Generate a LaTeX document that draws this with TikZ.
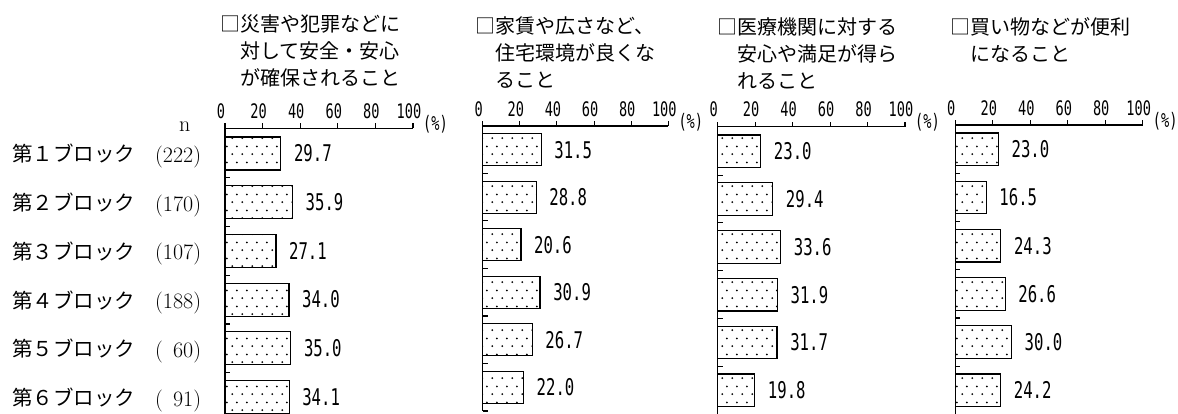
\documentclass[tikz,border=0pt]{standalone}
\usepackage{fontspec}
\usetikzlibrary{patterns}
\newfontfamily\jp{Noto Sans CJK JP}
\newfontfamily\numf[FakeStretch=0.68]{DejaVu Sans Mono}
\pgfdeclarepatternformonly{bardots}{\pgfpointorigin}{\pgfqpoint{10pt}{16pt}}{\pgfqpoint{10pt}{16pt}}{%
  \pgfpathcircle{\pgfqpoint{2.5pt}{4pt}}{1.05pt}%
  \pgfpathcircle{\pgfqpoint{7.5pt}{12pt}}{1.05pt}%
  \pgfusepath{fill}}
\newcommand{\drawpanel}[8]{%
  \draw[axisline] (#2,#3) coordinate (p#1o) -- ++(#7,0);
  \foreach \k in {0,...,5}{%
    \draw[axisline] (#2+\k*#7/5,#3) -- ++(0,-5);
    \pgfmathtruncatemacro\lab{\k*20}
    \node[ticklab] (p#1t\k) at (#2+\k*#7/5-4,#3-17) {\lab};
  }
  \node[pct] (p#1pct) at (#2+#7+10,#3-4) {(\%)};
  \pgfmathsetmacro\bot{#4+5*#5+#6+(#5-#6)/2}
  \draw[axisline] (#2,#3) -- (#2,\bot);
  \foreach \v [count=\i] in {#8}{%
    \pgfmathsetmacro\tp{#4+(\i-1)*#5}
    \node[barbox, minimum width=\v*#7/100, minimum height=#6] (p#1b\i) at (#2,\tp) {};
    \node[val] (p#1v\i) at ([xshift=13pt]p#1b\i.east) {\v};
    \pgfmathsetmacro\tk{\tp+#6+(#5-#6)/2}
    \draw[axisline] (#2,\tk) -- ++(5,0);
  }
}
\begin{document}
\begin{tikzpicture}[x=1pt,y=-1pt,
  barbox/.style={draw, line width=1.2pt, pattern=bardots, pattern color=black, inner sep=0pt, outer sep=0pt, anchor=north west},
  val/.style={font=\numf\fontsize{23}{23}\selectfont, anchor=west, inner sep=0pt},
  ticklab/.style={font=\numf\fontsize{20}{20}\selectfont, inner sep=0pt},
  pct/.style={font=\numf\fontsize{20}{20}\selectfont, anchor=west, inner sep=0pt},
  ttl/.style={font=\jp\fontsize{20}{20}\selectfont, anchor=base west, inner sep=0pt},
  rowlab/.style={font=\jp\fontsize{20.5}{20.5}\selectfont, anchor=base west, inner sep=0pt},
  nlab/.style={font=\fontsize{22}{22}\selectfont, anchor=base west, inner sep=0pt},
  axisline/.style={line width=1.1pt},
]
\fill[white] (0,0) rectangle (1178,414);
\useasboundingbox (0,0) rectangle (1178,414);

% titles
\node[ttl] (t1a) at (220,31.5) {□災害や犯罪などに};
\node[ttl] (t1b) at (240,58.5) {対して安全・安心};
\node[ttl] (t1c) at (240,85.5) {が確保されること};
\node[ttl] (t2a) at (475,34) {□家賃や広さなど、};
\node[ttl] (t2b) at (495,61) {住宅環境が良くな};
\node[ttl] (t2c) at (495,88) {ること};
\node[ttl] (t3a) at (717,34.5) {□医療機関に対する};
\node[ttl] (t3b) at (737,61.5) {安心や満足が得ら};
\node[ttl] (t3c) at (737,88.5) {れること};
\node[ttl] (t4a) at (950,35) {□買い物などが便利};
\node[ttl] (t4b) at (970,62) {になること};

% row labels
\node[nlab] (nn) at (179,132) {n};
\node[rowlab] (r1) at (12,162) {第１ブロック};
\node[rowlab] (r2) at (12,210.7) {第２ブロック};
\node[rowlab] (r3) at (12,259.4) {第３ブロック};
\node[rowlab] (r4) at (12,308.1) {第４ブロック};
\node[rowlab] (r5) at (12,356.8) {第５ブロック};
\node[rowlab] (r6) at (12,405.5) {第６ブロック};
\node[nlab] (n1) at (155,162.5) {(222)};
\node[nlab] (n2) at (155,211.2) {(170)};
\node[nlab] (n3) at (155,259.9) {(107)};
\node[nlab] (n4) at (155,308.6) {(188)};
\node[nlab] (n5) at (155,357.3) {(\phantom{0}60)};
\node[nlab] (n6) at (155,406) {(\phantom{0}91)};

% panels: id, x0, axis y, first bar top, spacing, bar height, span, values
\drawpanel{1}{225}{128.5}{137}{48.7}{33}{188}{29.7,35.9,27.1,34.0,35.0,34.1}
\drawpanel{2}{482.7}{126}{133.7}{47.5}{32}{185.6}{31.5,28.8,20.6,30.9,26.7,22.0}
\drawpanel{3}{717.7}{126.7}{135}{47.8}{32.5}{187.3}{23.0,29.4,33.6,31.9,31.7,19.8}
\drawpanel{4}{955.3}{125}{133}{48.2}{32.5}{187.4}{23.0,16.5,24.3,26.6,30.0,24.2}
\end{tikzpicture}
\end{document}
